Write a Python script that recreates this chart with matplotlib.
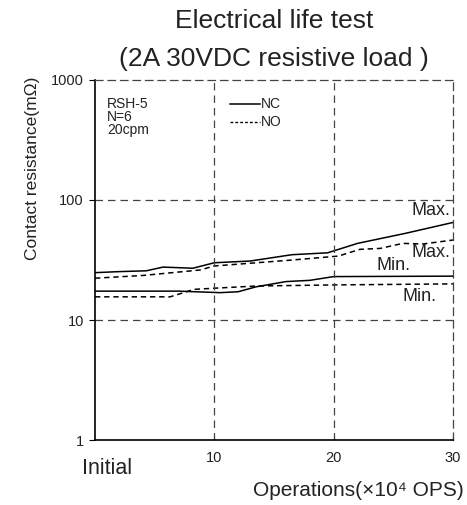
import matplotlib.pyplot as plt
from matplotlib.ticker import FixedLocator, NullLocator, FixedFormatter

plt.rcParams['font.family'] = ['Liberation Sans', 'DejaVu Sans']

# Operations (x10^4) and contact resistance (mOhm)
nc_max_x = [0, 2, 4.3, 5.7, 8.2, 10, 13, 16.5, 19.5, 22, 26, 30]
nc_max_y = [24.8, 25.3, 25.7, 27.6, 27.0, 30, 31, 35, 36.3, 43.5, 52.7, 65]

no_max_x = [0, 4, 8.8, 10, 16.5, 20.4, 22.2, 23.9, 25.8, 27.5, 30]
no_max_y = [22.3, 23.5, 26.1, 28.2, 31.6, 34.1, 38.8, 39.5, 43.5, 43.0, 46.4]

nc_min_x = [0, 7, 10.5, 12, 13.5, 16, 18, 20, 30]
nc_min_y = [17.4, 17.4, 16.9, 17.2, 18.9, 20.9, 21.4, 23.0, 23.2]

no_min_x = [0, 6.3, 8.3, 10, 13.5, 20, 30]
no_min_y = [15.6, 15.6, 18.0, 18.4, 19.2, 19.6, 20.0]

x_ticks = [10, 20, 30]
y_ticks = [1, 10, 100, 1000]
y_tick_labels = ['1', '10', '100', '1000']

fig = plt.figure(figsize=(4.67, 5.05), dpi=100)
ax = fig.add_axes([0.2034, 0.1287, 0.7666, 0.7129])

txt = '#222222'
solid = dict(color='black', linewidth=1.1)
dashed = dict(color='black', linewidth=1.1, linestyle=(0, (3.5, 2.5)))

ax.plot(nc_max_x, nc_max_y, **solid)
ax.plot(nc_min_x, nc_min_y, **solid)
ax.plot(no_max_x, no_max_y, **dashed)
ax.plot(no_min_x, no_min_y, **dashed)

ax.set_yscale('log')
ax.set_xlim(0, 30)
ax.set_ylim(1, 1000)
ax.yaxis.set_major_locator(FixedLocator(y_ticks))
ax.yaxis.set_major_formatter(FixedFormatter(y_tick_labels))
ax.yaxis.set_minor_locator(NullLocator())
ax.set_xticks(x_ticks)
ax.tick_params(axis='x', direction='in', length=3, labelsize=10.5, pad=8, labelcolor=txt)
ax.tick_params(axis='y', direction='out', length=4, labelsize=10.5, pad=4, labelcolor=txt)

# dashed grid and dashed top/right frame
grid_style = (0, (6, 4))
for v in [10, 20]:
    ax.axvline(v, color='#444444', linewidth=0.9, linestyle=grid_style)
for v in [10, 100]:
    ax.axhline(v, color='#444444', linewidth=0.9, linestyle=grid_style)
for s in ['top', 'right']:
    ax.spines[s].set_linestyle(grid_style)
    ax.spines[s].set_color('#444444')
    ax.spines[s].set_linewidth(0.9)
for s in ['left', 'bottom']:
    ax.spines[s].set_linewidth(1.2)

ax.set_title('Electrical life test\n(2A 30VDC resistive load )', fontsize=19,
             color=txt, linespacing=1.75, pad=10)
ax.text(-0.175, 0.756, 'Contact resistance(mΩ)', transform=ax.transAxes, rotation=90,
        ha='center', va='center', fontsize=12.5, color=txt)
ax.text(1.03, -0.141, 'Operations(×10⁴ OPS)', transform=ax.transAxes,
        ha='right', va='center', fontsize=15, color=txt)
ax.text(0.034, -0.08, 'Initial', transform=ax.transAxes, ha='center', va='center',
        fontsize=15.5, color=txt)

# curve labels
ax.text(29.75, 81, 'Max.', ha='right', va='center', fontsize=13, color=txt)
ax.text(29.75, 36.2, 'Max.', ha='right', va='center', fontsize=13, color=txt)
ax.text(25.0, 28.7, 'Min.', ha='center', va='center', fontsize=13, color=txt)
ax.text(27.2, 15.6, 'Min.', ha='center', va='center', fontsize=13, color=txt)

# test conditions
for yy, s in zip([0.933, 0.897, 0.861], ['RSH-5', 'N=6', '20cpm']):
    ax.text(0.034, yy, s, transform=ax.transAxes, ha='left', va='center',
            fontsize=10, color=txt)
ax.plot([0.377, 0.461], [0.933, 0.933], transform=ax.transAxes, **solid)
ax.plot([0.377, 0.461], [0.884, 0.884], transform=ax.transAxes, color='black',
        linewidth=1.0, linestyle=(0, (2, 1.5)))
ax.text(0.464, 0.933, 'NC', transform=ax.transAxes, ha='left', va='center',
        fontsize=10, color=txt)
ax.text(0.464, 0.884, 'NO', transform=ax.transAxes, ha='left', va='center',
        fontsize=10, color=txt)

fig.savefig('out.png', dpi=100)
